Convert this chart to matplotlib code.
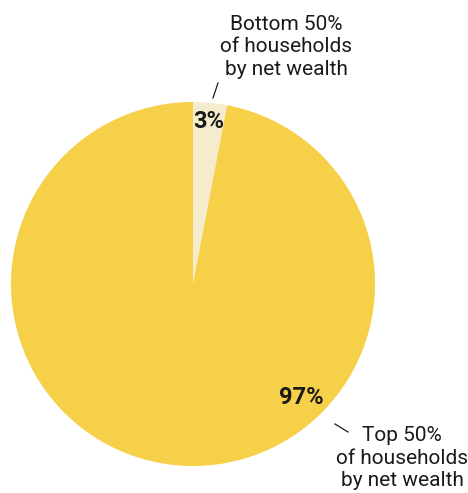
import matplotlib
matplotlib.use("Agg")
import matplotlib.pyplot as plt

labels = ["Bottom 50%\nof households\nby net wealth", "Top 50%\nof households\nby net wealth"]
values = [3, 97]
pct_labels = ["3%", "97%"]
colors = ["#F5ECCE", "#F5D048"]

W, H = 468, 493
fig = plt.figure(figsize=(W / 100, H / 100), dpi=100)
ax = fig.add_axes([0, 0, 1, 1])

cx, cy, r = 193, H - 284, 182
ax.pie(values, colors=colors, startangle=90, counterclock=False,
       center=(cx, cy), radius=r, frame=True,
       wedgeprops=dict(linewidth=0))
ax.set_xlim(0, W)
ax.set_ylim(0, H)
ax.set_aspect("equal")
ax.axis("off")

fam = ["Roboto", "DejaVu Sans"]
txt_color = "#1a1a1a"
# percentage labels
ax.text(209, H - 122, pct_labels[0], ha="center", va="center", fontsize=17,
        fontweight="bold", color=txt_color, family=fam)
ax.text(301, H - 398, pct_labels[1], ha="center", va="center", fontsize=17,
        fontweight="bold", color=txt_color, family=fam)

# category labels
ax.text(286, H - 47, labels[0], ha="center", va="center", fontsize=15,
        color=txt_color, family=fam, linespacing=1.22)
ax.text(402, H - 458, labels[1], ha="center", va="center", fontsize=15,
        color=txt_color, family=fam, linespacing=1.22)

# leader lines
ax.plot([213, 218], [H - 98, H - 83], color=txt_color, lw=0.9)
ax.plot([335, 348], [H - 424, H - 432], color=txt_color, lw=0.9)

fig.savefig("out.png", dpi=100)
